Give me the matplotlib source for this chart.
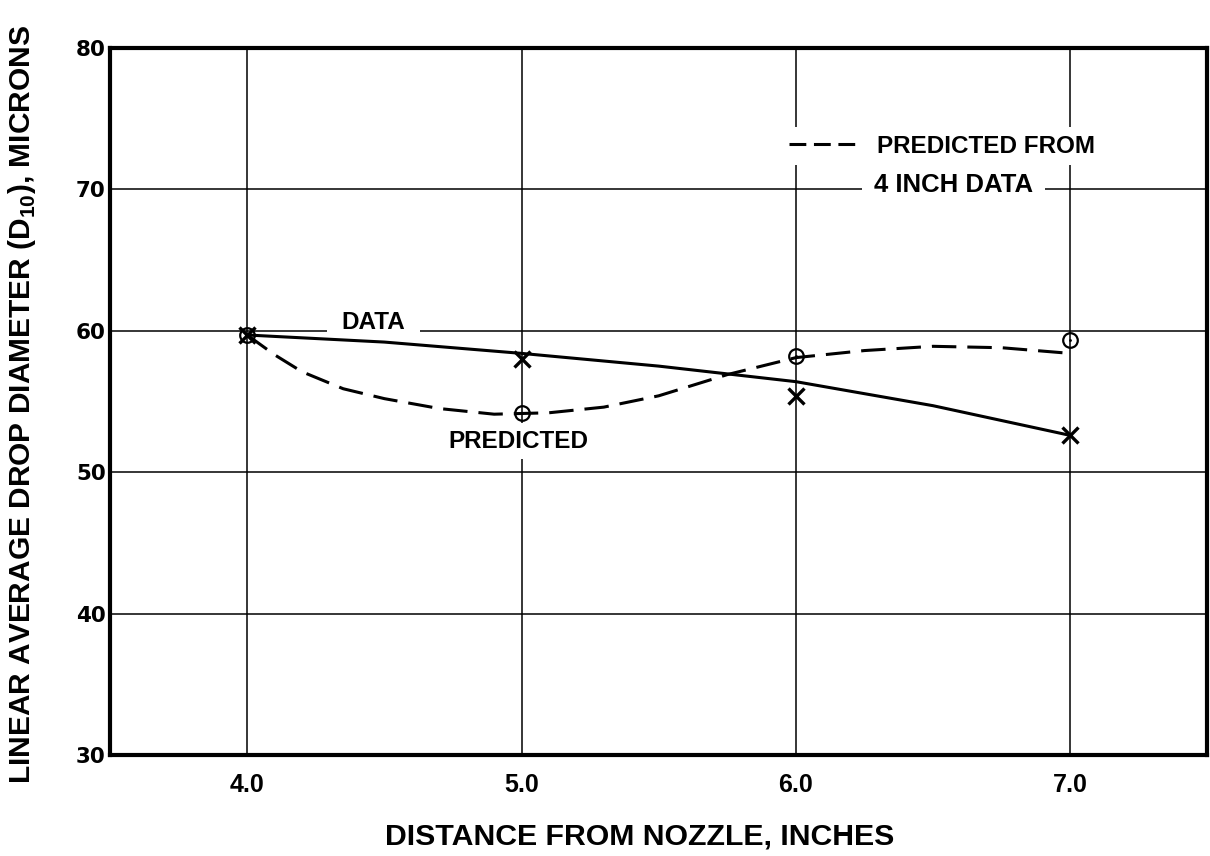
import matplotlib
matplotlib.use('Agg')
import matplotlib.pyplot as plt
from matplotlib.lines import Line2D

# measured points
x_points = [4.0, 5.0, 6.0, 7.0]
data_points = [59.7, 58.0, 55.4, 52.6]
predicted_points = [59.7, 54.2, 58.2, 59.35]

# faired curves
data_curve_x = [4.0, 4.5, 5.0, 5.5, 6.0, 6.5, 7.0]
data_curve_y = [59.7, 59.2, 58.4, 57.5, 56.4, 54.7, 52.6]
pred_curve_x = [4.0, 4.1, 4.2, 4.35, 4.5, 4.7, 4.9, 5.1, 5.3, 5.5, 5.75, 6.0, 6.25, 6.5, 6.75, 7.0]
pred_curve_y = [59.7, 58.3, 57.1, 55.9, 55.2, 54.5, 54.1, 54.2, 54.6, 55.4, 56.9, 58.1, 58.6, 58.9, 58.8, 58.4]

x_ticks = [4.0, 5.0, 6.0, 7.0]
x_ticklabels = ['4.0', '5.0', '6.0', '7.0']
y_ticks = [30, 40, 50, 60, 70, 80]

plt.rcParams['font.family'] = ['Liberation Sans', 'DejaVu Sans']
plt.rcParams['font.weight'] = 'bold'
plt.rcParams['axes.labelweight'] = 'bold'

fig = plt.figure(figsize=(12.1, 8.56), dpi=100)
ax = fig.add_axes([0.0909, 0.118, 0.907, 0.826])

ax.set_xlim(3.5, 7.5)
ax.set_ylim(30, 80)
ax.set_xticks(x_ticks)
ax.set_xticklabels(x_ticklabels)
ax.set_yticks(y_ticks)
ax.tick_params(axis='both', length=0)
ax.tick_params(axis='x', pad=13, labelsize=18)
ax.tick_params(axis='y', pad=3)
for lab in ax.get_yticklabels():
    lab.set_fontfamily('DejaVu Sans')
    lab.set_fontweight('bold')
    lab.set_fontsize(15.5)

ax.set_axisbelow(True)
ax.grid(True, color='black', linewidth=1.1)
for s in ax.spines.values():
    s.set_linewidth(3)
    s.set_zorder(5)

ax.plot(pred_curve_x, pred_curve_y, color='black', lw=2.2,
        dashes=(8, 3.6), zorder=3)
ax.plot(data_curve_x, data_curve_y, color='black', lw=2.2, zorder=3)
ax.plot(x_points, data_points, 'x', color='black', ms=11, mew=2.4, zorder=4)
ax.plot(x_points, predicted_points, 'o', color='black', ms=10.5, mew=1.6,
        mfc='none', zorder=4)
ax.plot(x_points, predicted_points, '.', color='black', ms=2, zorder=4)

ax.text(4.46, 60.6, 'DATA', fontsize=17.5, ha='center', va='center',
        bbox=dict(facecolor='white', edgecolor='none', boxstyle='square,pad=0.6'),
        zorder=2)
ax.text(4.99, 52.2, 'PREDICTED', fontsize=17.5, ha='center', va='center',
        bbox=dict(facecolor='white', edgecolor='none', boxstyle='square,pad=0.25'),
        zorder=2)
ax.text(6.284, 70.3, '4 INCH DATA', fontsize=18.5, ha='left', va='center',
        bbox=dict(facecolor='white', edgecolor='none', boxstyle='square,pad=0.45'),
        zorder=2)

key = Line2D([], [], color='black', lw=2.2, dashes=(5.5, 2.5))
leg = ax.legend(handles=[key], labels=['PREDICTED FROM'], loc='center left',
                bbox_to_anchor=(0.612, 0.861), fontsize=17.5, frameon=True,
                fancybox=False, handlelength=3.0, handletextpad=0.64,
                borderpad=0.3, borderaxespad=0)
leg.get_frame().set_facecolor('white')
leg.get_frame().set_edgecolor('none')
leg.get_frame().set_alpha(1)

ax.set_xlabel('DISTANCE FROM NOZZLE, INCHES', fontsize=21.8)
ax.xaxis.set_label_coords(0.483, -0.095)
ax.set_ylabel(r'LINEAR AVERAGE DROP DIAMETER (D$_{\mathregular{10}}$), MICRONS', fontsize=21.5)
ax.yaxis.set_label_coords(-0.066, 0.495)

plt.savefig('out.png', dpi=100)
